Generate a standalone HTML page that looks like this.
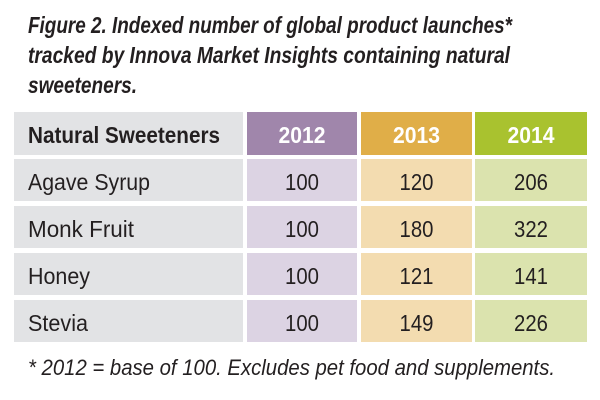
<!DOCTYPE html>
<html><head><meta charset="utf-8"><style>
html,body{margin:0;padding:0;background:#fff;}
svg{display:block;}
text{font-family:"Liberation Sans",sans-serif;fill:#231f20;}
</style></head><body>
<svg id="chart" width="600" height="400" viewBox="0 0 600 400" xmlns="http://www.w3.org/2000/svg">
<g font-weight="bold" font-style="italic" font-size="23">
<text x="28" y="33" textLength="484" lengthAdjust="spacingAndGlyphs">Figure 2. Indexed number of global product launches*</text>
<text x="28" y="63" textLength="482" lengthAdjust="spacingAndGlyphs">tracked by Innova Market Insights containing natural</text>
<text x="28" y="93" textLength="109" lengthAdjust="spacingAndGlyphs">sweeteners.</text>
</g>
<g id="table"></g>
<text x="28" y="375" font-style="italic" font-size="22" textLength="527" lengthAdjust="spacingAndGlyphs">* 2012 = base of 100. Excludes pet food and supplements.</text>
</svg>
<script>
const years = ["2012","2013","2014"];
const sweeteners = ["Agave Syrup","Monk Fruit","Honey","Stevia"];
const values2012 = [100,100,100,100];
const values2013 = [120,180,121,149];
const values2014 = [206,322,141,226];
const series = [values2012, values2013, values2014];
const labelLen = [122,106,62,60];
const NS = "http://www.w3.org/2000/svg";
const g = document.getElementById("table");
const colX = [14,247,361,475], colW = [229,110,111,112];
const headY = 112, rowH = 42, rowStep = 47;
const headCol = ["#a086ab","#e0ae48","#a9c22f"];
const bodyCol = ["#dcd3e3","#f3dcb0","#dbe3ae"];
function rect(x,y,w,h,f,name){const r=document.createElementNS(NS,"rect");r.setAttribute("x",x);r.setAttribute("y",y);r.setAttribute("width",w);r.setAttribute("height",h);r.setAttribute("fill",f);


g.appendChild(r);}
function txt(s,x,y,anchor,bold,fill,len,name){const t=document.createElementNS(NS,"text");t.textContent=s;t.setAttribute("x",x);t.setAttribute("y",y);t.setAttribute("text-anchor",anchor);t.setAttribute("font-size","23");if(bold)t.setAttribute("font-weight","bold");if(fill)t.setAttribute("style","fill:"+fill);t.setAttribute("textLength",len);t.setAttribute("lengthAdjust","spacingAndGlyphs");


g.appendChild(t);}
rect(colX[0],headY,colW[0],rowH+1,"#e2e3e5","header-cell-label");
txt("Natural Sweeteners",28,143,"start",true,null,192,"header-label");
years.forEach((y,i)=>{rect(colX[i+1],headY,colW[i+1],rowH+1,headCol[i],"header-cell-"+y);
txt(y,colX[i+1]+colW[i+1]/2,143,"middle",true,"#ffffff",47,"header-year-"+y);});
sweeteners.forEach((s,r)=>{const y=headY+rowStep*(r+1);
rect(colX[0],y,colW[0],rowH,"#e2e3e5","row-label-cell");
txt(s,28,y+31,"start",false,null,labelLen[r],"row-label");
series.forEach((vals,i)=>{rect(colX[i+1],y,colW[i+1],rowH,bodyCol[i],"value-cell-"+years[i]);
const v=String(vals[r]);txt(v,colX[i+1]+colW[i+1]/2,y+31,"middle",false,null,v.length*11.3,"value-"+years[i]);});});
</script>
</body></html>
